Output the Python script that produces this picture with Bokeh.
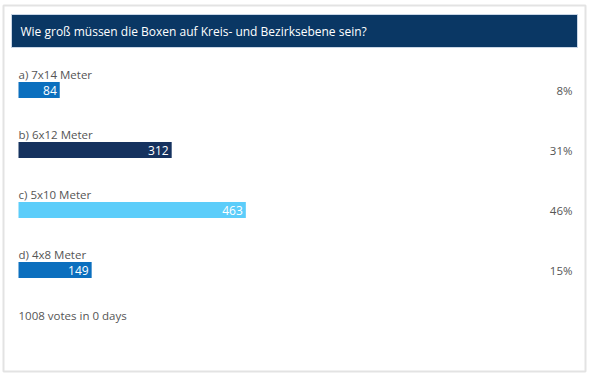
from bokeh.plotting import figure
from bokeh.models import Range1d, ColumnDataSource
from bokeh.core.properties import value
from bokeh.embed import file_html
from bokeh.resources import INLINE

# ---- data ----
title = "Wie groß müssen die Boxen auf Kreis- und Bezirksebene sein?"
options = ["a) 7x14 Meter", "b) 6x12 Meter", "c) 5x10 Meter", "d) 4x8 Meter"]
votes = [84, 312, 463, 149]
percents = ["8%", "31%", "46%", "15%"]
bar_colors = ["#0b6fbe", "#15325f", "#5ccdfa", "#0b6fbe"]
footer = "1008 votes in 0 days"

# ---- layout (pixel-like helper range) ----
W, H = 590, 376
PX_PER_VOTE = 0.491
LEFT = 18
row_y = [89.5 + 60 * i for i in range(len(options))]

p = figure(width=W, height=H, output_backend="svg", toolbar_location=None,
           x_range=Range1d(-LEFT / PX_PER_VOTE, (W - LEFT) / PX_PER_VOTE),
           y_range=Range1d(H, 0), min_border=0, background_fill_color="white",
           border_fill_color="white")
p.extra_x_ranges["px"] = Range1d(0, W)
p.axis.visible = False
p.xaxis.visible = False
p.yaxis.visible = False
p.grid.visible = False
p.outline_line_color = None

FONT = value("Open Sans")

# outer frame
p.quad(left=[3], right=[585], top=[5], bottom=[371], x_range_name="px",
       fill_color="white", line_color="#e3e3e3", line_width=2)
# header
p.quad(left=[11], right=[577], top=[14], bottom=[47], x_range_name="px",
       fill_color="#0a3764", line_color="#c9d6e6", line_width=1)
p.text(x=[20], y=[30.5], text=[title], x_range_name="px", text_color="white",
       text_font=FONT, text_font_size="12px", text_baseline="middle", text_align="left")

src = ColumnDataSource(dict(
    opt=options, votes=votes, pct=percents, color=bar_colors,
    y=row_y, ly=[y - 15.5 for y in row_y], vlabel=[str(v) for v in votes],
    zero=[0] * len(votes), lx=[LEFT] * len(votes), px=[572] * len(votes),
))

p.hbar(y="y", left="zero", right="votes", height=16, fill_color="color",
       line_color=None, source=src)
p.text(x="lx", y="ly", text="opt", x_range_name="px", source=src,
       text_color="#555555", text_font=FONT, text_font_size="11.5px",
       text_baseline="middle", text_align="left")
p.text(x="votes", y="y", text="vlabel", source=src, x_offset=-3,
       text_color="white", text_font=FONT, text_font_size="12px",
       text_baseline="middle", text_align="right")
p.text(x="px", y="y", text="pct", x_range_name="px", source=src,
       text_color="#555555", text_font=FONT, text_font_size="11.5px",
       text_baseline="middle", text_align="right")

p.text(x=[LEFT], y=[315], text=[footer], x_range_name="px", text_color="#555555",
       text_font=FONT, text_font_size="11.5px", text_baseline="middle", text_align="left")

open("out.html", "w").write(file_html(p, INLINE))
